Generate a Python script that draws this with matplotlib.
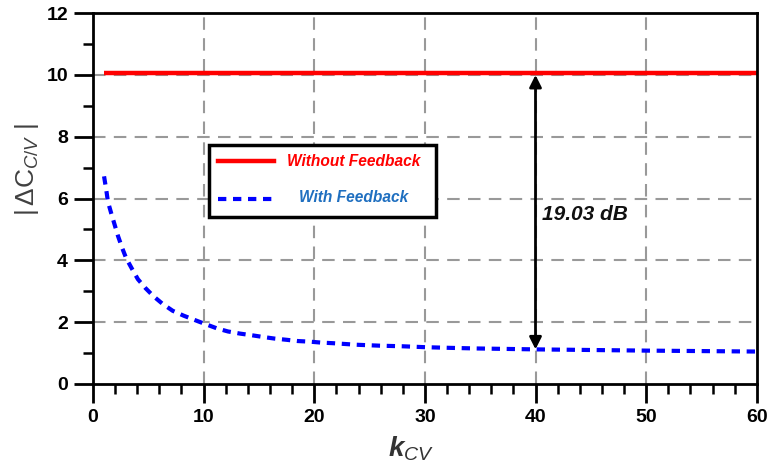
import matplotlib
matplotlib.use("Agg")
import matplotlib.pyplot as plt
from matplotlib.patches import Rectangle
from matplotlib.lines import Line2D

plt.rcParams['font.family'] = ['Liberation Sans', 'DejaVu Sans']
plt.rcParams['mathtext.fontset'] = 'custom'
plt.rcParams['mathtext.rm'] = 'Liberation Sans'
plt.rcParams['mathtext.it'] = 'Liberation Sans:italic'
plt.rcParams['mathtext.bf'] = 'Liberation Sans:bold'
plt.rcParams['mathtext.bfit'] = 'Liberation Sans:italic:bold'

# ---- data ----
k_without = [1, 60]
dc_without = [10.05, 10.05]

k_with = [1.0, 1.2, 1.35, 1.65, 1.96, 2.26, 2.65, 3.0, 3.55, 4.06, 4.75, 5.5, 6.3, 7.2,
          8.2, 9.2, 10.0, 11.2, 12.2, 13.3, 14.3, 15.4, 16.4, 17.5, 18.5, 19.6, 20.6,
          21.7, 23.8, 25.9, 28.0, 30.1, 32.2, 34.6, 36.4, 40.0, 45.0, 50.0, 55.0, 60.0]
dc_with = [6.72, 6.28, 5.90, 5.52, 5.15, 4.79, 4.39, 4.07, 3.71, 3.39, 3.10, 2.83, 2.59, 2.37,
           2.21, 2.07, 1.96, 1.80, 1.70, 1.63, 1.58, 1.52, 1.47, 1.43, 1.39, 1.37, 1.34,
           1.32, 1.27, 1.24, 1.22, 1.19, 1.17, 1.15, 1.14, 1.12, 1.10, 1.08, 1.065, 1.05]

x_ticks = [0, 10, 20, 30, 40, 50, 60]
y_ticks = [0, 2, 4, 6, 8, 10, 12]
label_without = "Without Feedback"
label_with = "With Feedback"
annot_text = "19.03 dB"
annot_x = 40

fig = plt.figure(figsize=(7.73, 4.70), dpi=100)
ax = fig.add_axes([0.1203, 0.183, 0.8587, 0.789])

ax.set_xlim(0, 60)
ax.set_ylim(0, 12)

# grid
for xv in x_ticks[1:-1]:
    ax.axvline(xv, color='#999999', lw=1.5, dashes=(6, 4), zorder=1)
for yv in y_ticks[1:-1]:
    ax.axhline(yv, color='#999999', lw=1.5, dashes=(6, 4), zorder=1)

red_line, = ax.plot(k_without, dc_without, color='#FF0000', lw=3.2, solid_capstyle='butt', zorder=3)
blue_line, = ax.plot(k_with, dc_with, color='#0000FF', lw=3.0, dashes=(2.0, 1.6), zorder=3)

# arrow
ax.annotate('', xy=(annot_x, dc_without[0] - 0.05), xytext=(annot_x, dc_with[k_with.index(40.0)]),
            arrowprops=dict(arrowstyle='<|-|>', color='black', lw=2, mutation_scale=18,
                            shrinkA=0, shrinkB=0), zorder=4)
ax.text(annot_x + 0.6, 5.5, annot_text, fontsize=15, fontweight='bold', fontstyle='italic',
        ha='left', va='center', color='#111111', zorder=5)

# ticks
ax.set_xticks(x_ticks)
ax.set_yticks(y_ticks)
ax.set_xticks(range(0, 61, 2), minor=True)
ax.set_yticks(range(0, 13, 1), minor=True)
ax.tick_params(axis='both', which='major', direction='out', length=14, width=2,
               labelsize=14, pad=4, colors='black')
ax.tick_params(axis='both', which='minor', direction='out', length=7, width=1.8)
for lab in ax.get_xticklabels() + ax.get_yticklabels():
    lab.set_fontweight('bold')
for sp in ax.spines.values():
    sp.set_linewidth(2)
    sp.set_color('black')
    sp.set_zorder(6)

ax.set_xlabel(r'$\mathbfit{k}_{CV}$', fontsize=20, color='#333333')
ax.xaxis.set_label_coords(0.48, -0.135)
ax.set_ylabel(r'$|\,\mathrm{\Delta C}_{C/V}\ |$', fontsize=19, color='#404040')
ax.yaxis.set_label_coords(-0.078, 0.577)

# legend (manual)
lx0, ly0, lx1, ly1 = 209, 145, 436, 217  # pixel box
W, H = 773, 470
rect = Rectangle((lx0 / W, 1 - ly1 / H), (lx1 - lx0) / W, (ly1 - ly0) / H,
                 transform=fig.transFigure, facecolor='white', edgecolor='black', lw=2.5, zorder=10)
fig.add_artist(rect)
fig.add_artist(Line2D([218 / W, 274 / W], [1 - 161 / H, 1 - 161 / H], transform=fig.transFigure,
                      color='#FF0000', lw=3.2, zorder=11))
fig.add_artist(Line2D([218 / W, 274 / W], [1 - 199 / H, 1 - 199 / H], transform=fig.transFigure,
                      color='#0000FF', lw=3.0, dashes=(2.0, 1.6), zorder=11))
fig.text(354 / W, 1 - 162 / H, label_without, color='#FF0000', fontsize=11.2, fontweight='bold',
         fontstyle='italic', ha='center', va='center', zorder=12)
fig.text(354 / W, 1 - 198 / H, label_with, color='#1F6FC0', fontsize=11.2, fontweight='bold',
         fontstyle='italic', ha='center', va='center', zorder=12)

fig.savefig('out.png', dpi=100)
